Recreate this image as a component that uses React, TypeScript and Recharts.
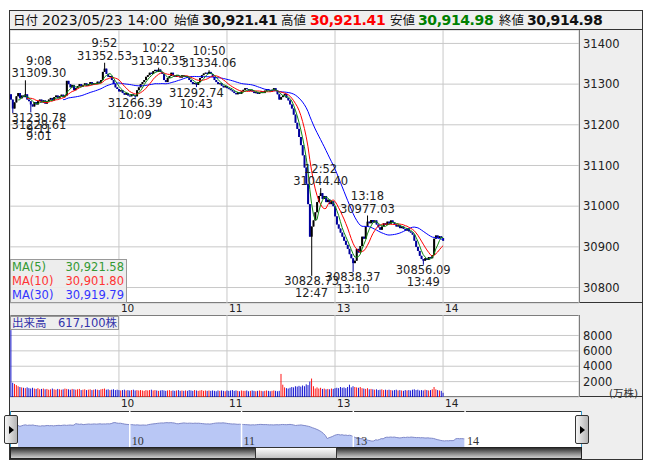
import React from "react";
import {
  ComposedChart,
  AreaChart,
  Area,
  Bar,
  Line,
  XAxis,
  YAxis,
  CartesianGrid,
  ReferenceDot,
  ReferenceLine,
} from "recharts";

const FONT = '"DejaVu Sans", Verdana, sans-serif';
const JP_FONT = '"DejaVu Sans", "Noto Sans CJK JP", sans-serif';

// 1分足 終値 9:00-11:29
const morningClose = [
  31262, 31240, 31255, 31270, 31278, 31265, 31272, 31268, 31275, 31262,
  31258, 31250, 31245, 31256, 31250, 31258, 31262, 31255, 31260, 31252,
  31258, 31262, 31266, 31260, 31268, 31272, 31265, 31270, 31274, 31268,
  31272, 31308, 31300, 31292, 31298, 31285, 31290, 31295, 31300, 31294,
  31298, 31302, 31296, 31300, 31305, 31298, 31302, 31300, 31306, 31303,
  31310, 31330, 31338, 31325, 31318, 31320, 31310, 31300, 31292, 31288,
  31282, 31285, 31278, 31274, 31278, 31272, 31270, 31275, 31272, 31270,
  31285, 31292, 31300, 31305, 31310, 31318, 31322, 31328, 31325, 31332,
  31335, 31330, 31336, 31330, 31325, 31310, 31305, 31315, 31320, 31328,
  31322, 31318, 31322, 31320, 31316, 31322, 31318, 31320, 31315, 31310,
  31305, 31300, 31303, 31298, 31305, 31315, 31322, 31326, 31328, 31325,
  31330, 31325, 31318, 31310, 31305, 31300, 31302, 31296, 31292, 31295,
  31290, 31288, 31285, 31282, 31278, 31275, 31280, 31276, 31282, 31286,
  31290, 31288, 31284, 31286, 31282, 31278, 31280, 31276, 31279, 31282,
  31278, 31284, 31288, 31285, 31282, 31286, 31290, 31284, 31275, 31262,
];

// 12:30-14:00
const afternoonClose = [
  31268, 31272, 31276, 31266, 31260, 31250, 31240, 31225, 31205, 31190,
  31170, 31150, 31125, 31095, 31055, 31005, 30925, 30950, 30965, 30985,
  31010, 31025, 31032, 31018, 31025, 31010, 31016, 31005, 31012, 31000,
  30975, 30955, 30945, 30935, 30925, 30915, 30905, 30895, 30882, 30872,
  30860, 30866, 30895, 30886, 30902, 30925, 30920, 30950, 30962, 30958,
  30966, 30960, 30965, 30955, 30948, 30942, 30950, 30958, 30954, 30962,
  30957, 30965, 30960, 30955, 30950, 30953, 30946, 30950, 30944, 30940,
  30945, 30938, 30935, 30930, 30915, 30900, 30890, 30878, 30870, 30866,
  30872, 30868, 30875, 30872, 30880, 30920, 30928, 30922, 30926, 30921.41,
  30914.98,
];

const firstOpen = 31275;

// 出来高 (万株)
const morningVolume = [
  8700, 1850, 1700, 1550, 1400, 1300, 1250, 1200, 1150, 1250,
  1150, 1100, 1200, 1100, 1050, 1150, 1000, 1050, 1100, 1000,
  1050, 950, 1000, 1100, 1000, 950, 1050, 1000, 950, 1000,
  1100, 1050, 1000, 950, 1050, 1000, 950, 1000, 1050, 900,
  950, 1000, 900, 950, 1000, 900, 950, 1000, 950, 900,
  1000, 1050, 1100, 950, 1000, 900, 950, 1000, 900, 950,
  900, 850, 900, 950, 850, 900, 850, 900, 950, 850,
  900, 850, 900, 850, 800, 900, 850, 900, 950, 850,
  900, 850, 800, 850, 900, 850, 800, 850, 900, 800,
  850, 800, 850, 900, 800, 850, 800, 850, 800, 900,
  850, 800, 900, 850, 800, 850, 900, 800, 850, 800,
  850, 800, 850, 800, 750, 850, 800, 850, 800, 750,
  850, 800, 850, 900, 800, 850, 800, 750, 850, 800,
  800, 850, 750, 800, 850, 800, 750, 800, 850, 800,
  750, 800, 850, 800, 750, 800, 850, 800, 750, 800,
];

const afternoonVolume = [
  3000, 1600, 1250, 1150, 1100, 1200, 1300, 1250, 1400, 1350,
  1450, 1350, 1500, 1400, 1650, 1550, 2000, 2400, 1400, 1100,
  1250, 1100, 1200, 1050, 1100, 1000, 1050, 1000, 1100, 1050,
  1150, 1200, 1150, 1300, 1200, 1250, 1150, 1300, 1600, 1250,
  1400, 1300, 1250, 1200, 1300, 1150, 1100, 1050, 1150, 1000,
  1050, 1000, 950, 1000, 900, 950, 1000, 900, 950, 900,
  950, 900, 850, 900, 950, 850, 900, 850, 800, 900,
  850, 900, 850, 950, 1000, 900, 950, 850, 900, 850,
  950, 900, 850, 900, 1000, 1300, 1000, 900, 850, 800,
  550,
];

// 高値・安値の注記
const extremes = [
  { slot: 11, time: "9:11", kind: "low", price: 31230.78 },
  { slot: 1, time: "9:01", kind: "low", price: 31228.61 },
  { slot: 8, time: "9:08", kind: "high", price: 31309.3 },
  { slot: 52, time: "9:52", kind: "high", price: 31352.53 },
  { slot: 69, time: "10:09", kind: "low", price: 31266.39 },
  { slot: 82, time: "10:22", kind: "high", price: 31340.35 },
  { slot: 103, time: "10:43", kind: "low", price: 31292.74 },
  { slot: 110, time: "10:50", kind: "high", price: 31334.06 },
  { slot: 167, time: "12:47", kind: "low", price: 30828.73 },
  { slot: 172, time: "12:52", kind: "high", price: 31044.4 },
  { slot: 190, time: "13:10", kind: "low", price: 30838.37 },
  { slot: 198, time: "13:18", kind: "high", price: 30977.03 },
  { slot: 229, time: "13:49", kind: "low", price: 30856.09 },
];

const priceTicks = [30800, 30900, 31000, 31100, 31200, 31300, 31400];
const volumeTicks = [2000, 4000, 6000, 8000];
const hourTicks = [
  { slot: 60, label: "10" },
  { slot: 120, label: "11" },
  { slot: 180, label: "13" },
  { slot: 240, label: "14" },
];

const header = {
  date: "2023/05/23 14:00",
  open: "30,921.41",
  high: "30,921.41",
  low: "30,914.98",
  close: "30,914.98",
};

const maLegend = [
  { name: "MA(5)", value: "30,921.58", color: "#339933" },
  { name: "MA(10)", value: "30,901.80", color: "#ff3333" },
  { name: "MA(30)", value: "30,919.79", color: "#3333ff" },
];

const volumeLabel = "出来高　617,100株";

const SLOT_COUNT = 316;
const NAV_SLOTS = 300;

const closes = [...morningClose, ...afternoonClose];
const volumes = [...morningVolume, ...afternoonVolume];

function sma(i: number, n: number) {
  if (i + 1 < n) return undefined;
  let s = 0;
  for (let k = i - n + 1; k <= i; k++) s += closes[k];
  return s / n;
}

const rows = Array.from({ length: SLOT_COUNT }, (_, slot) => {
  if (slot >= closes.length) return { slot } as any;
  const close = closes[slot];
  const open = slot === 0 ? firstOpen : closes[slot - 1];
  let high = Math.max(open, close);
  let low = Math.min(open, close);
  extremes
    .filter((e) => e.slot === slot)
    .forEach((e) => {
      if (e.kind === "high") high = Math.max(high, e.price);
      else low = Math.min(low, e.price);
    });
  return {
    slot,
    open,
    close,
    high,
    low,
    range: [low, high],
    up: close >= open,
    volume: volumes[slot],
    ma5: sma(slot, 5),
    ma10: sma(slot, 10),
    ma30: sma(slot, 30),
  };
});

const navRows = Array.from({ length: NAV_SLOTS }, (_, slot) => ({
  slot,
  close: slot < closes.length ? closes[slot] : undefined,
}));

// labels squeezed against the left edge stack a little below each other
const annotStack = extremes.map((e, i) =>
  extremes.slice(0, i).filter((o) => o.kind === e.kind && o.slot < 16 && e.slot < 16).length
);

const Candle = (props: any) => {
  const { x, y, width, height, payload } = props;
  if (!payload || payload.close == null) return null;
  const { open, close, high, low } = payload;
  const top = Math.min(y, y + height);
  const h = Math.abs(height);
  const span = high - low || 1;
  const toY = (p: number) => top + ((high - p) / span) * h;
  const color = close >= open ? "#000000" : "#00009c";
  const cx = x + width / 2;
  const bTop = toY(Math.max(open, close));
  const bBot = toY(Math.min(open, close));
  return (
    <g>
      <line x1={cx} x2={cx} y1={top} y2={top + h} stroke={color} strokeWidth={1} />
      <rect x={x} y={bTop} width={width} height={Math.max(bBot - bTop, 1)} fill={color} />
    </g>
  );
};

const VolumeBar = (props: any) => {
  const { x, y, width, height, payload } = props;
  if (!payload || payload.volume == null) return null;
  return (
    <rect x={x} y={y} width={width} height={height} fill={payload.up ? "#ff0000" : "#0000cc"} />
  );
};

const HourTick = (props: any) => {
  const { x, y, payload, dy } = props;
  const h = hourTicks.find((t) => t.slot === payload.value);
  return (
    <text x={x + 2} y={y + (dy || 5)} dominantBaseline="central" fontSize={10.5} fontFamily={FONT} fill="#222">
      {h ? h.label : ""}
    </text>
  );
};

const Annotation = (props: any) => {
  const { cx, cy, e, stack } = props;
  const price = e.price.toFixed(2);
  const half = price.length * 3.5;
  const x = Math.max(cx, half + 1);
  const isHigh = e.kind === "high";
  const shift = (stack || 0) * 6;
  const priceY = isHigh ? cy - 7 - shift : cy + 5.5 + shift;
  const timeY = isHigh ? cy - 19.5 - shift : cy + 17 + shift;
  return (
    <g fontFamily={FONT} fontSize={11.5} fill="#222" textAnchor="middle">
      <text x={x} y={timeY} dominantBaseline="central">{e.time}</text>
      <text x={x} y={priceY} dominantBaseline="central">{price}</text>
    </g>
  );
};

const abs = (s: React.CSSProperties): React.CSSProperties => ({ position: "absolute", boxSizing: "border-box", ...s });

const Handle = ({ left }: { left: number }) => (
  <div
    style={abs({
      left,
      top: 415,
      width: 14,
      height: 29,
      border: "1px solid #333",
      borderRadius: 2,
      background: "linear-gradient(to right, #f6f6f6, #b4b4b4)",
    })}
  >
    <div
      style={abs({
        left: 4,
        top: 10,
        width: 0,
        height: 0,
        borderTop: "4px solid transparent",
        borderBottom: "4px solid transparent",
        borderLeft: "5px solid #000",
      })}
    />
  </div>
);

export default function App() {
  const hx = (left: number, text: string, style: React.CSSProperties) => (
    <span style={{ position: "absolute", left, top: 10, height: 20, lineHeight: "20px", whiteSpace: "nowrap", ...style }}>
      {text}
    </span>
  );
  const jp = { fontFamily: '"Noto Sans CJK JP", sans-serif', fontSize: 12.5, color: "#111" };
  const num = { fontFamily: FONT, fontSize: 14, fontWeight: 700, letterSpacing: -0.4 };

  return (
    <div style={{ position: "absolute", left: 0, top: 0, width: 653, height: 470, background: "#fff" }}>
      {/* frame and panel backgrounds */}
      <div style={abs({ left: 9, top: 10, width: 634, height: 450, border: "1px solid #333", background: "#fff" })} />
      <div style={abs({ left: 579, top: 29, width: 64, height: 275, background: "#eeeeee", borderLeft: "1px solid #333", borderRight: "1px solid #333" })} />
      <div style={abs({ left: 9, top: 302, width: 634, height: 14, background: "#eeeeee", border: "1px solid #333" })} />
      <div style={abs({ left: 579, top: 315, width: 64, height: 83, background: "#eeeeee", borderLeft: "1px solid #333", borderRight: "1px solid #333" })} />
      <div style={abs({ left: 9, top: 396, width: 634, height: 16, background: "#eeeeee", border: "1px solid #333" })} />
      <div style={abs({ left: 582, top: 411, width: 61, height: 49, background: "#eeeeee", borderRight: "1px solid #333", borderBottom: "1px solid #333" })} />

      {/* header */}
      <div style={abs({ left: 9, top: 10, width: 634, height: 20, background: "#efefef", border: "1px solid #333" })} />
      {hx(13, "日付", jp)}
      {hx(42, header.date, { fontFamily: FONT, fontSize: 14, color: "#111" })}
      {hx(174, "始値", jp)}
      {hx(202, header.open, { ...num, color: "#111" })}
      {hx(281, "高値", jp)}
      {hx(310, header.high, { ...num, color: "#ff0000" })}
      {hx(390, "安値", jp)}
      {hx(418, header.low, { ...num, color: "#008000" })}
      {hx(499, "終値", jp)}
      {hx(527, header.close, { ...num, color: "#111" })}

      {/* price panel */}
      <div style={{ position: "absolute", left: 10, top: 30 }}>
        <ComposedChart width={632} height={285} data={rows} margin={{ top: 0, right: 0, bottom: 0, left: 0 }} barCategoryGap={0}>
          <CartesianGrid stroke="#c8c8c8" />
          <XAxis
            dataKey="slot"
            type="category"
            ticks={hourTicks.map((h) => h.slot)}
            interval={0}
            height={12}
            tickLine={false}
            axisLine={false}
            tickSize={0}
            tickMargin={0}
            tick={<HourTick dy={4.5} />}
          />
          <YAxis
            orientation="right"
            width={63}
            type="number"
            domain={[30762, 31433]}
            allowDataOverflow
            ticks={priceTicks}
            interval={0}
            tickLine={false}
            axisLine={false}
            tickSize={0}
            tickMargin={4}
            tick={{ fill: "#222", fontSize: 11.5, fontFamily: FONT }}
          />
          <Bar dataKey="range" shape={Candle} isAnimationActive={false} />
          <Line dataKey="ma30" stroke="#0000ff" strokeWidth={1} dot={false} isAnimationActive={false} />
          <Line dataKey="ma10" stroke="#ff0000" strokeWidth={1} dot={false} isAnimationActive={false} />
          <Line dataKey="ma5" stroke="#118811" strokeWidth={1} dot={false} isAnimationActive={false} />
          {extremes.map((e, i) => (
            <ReferenceDot
              key={e.time + e.price}
              x={e.slot}
              y={e.price}
              r={1}
              ifOverflow="visible"
              shape={(p: any) => <Annotation cx={p.cx} cy={p.cy} e={e} stack={annotStack[i]} />}
            />
          ))}
        </ComposedChart>
      </div>

      {/* volume panel */}
      <div style={{ position: "absolute", left: 10, top: 315 }}>
        <ComposedChart width={632} height={96} data={rows} margin={{ top: 0, right: 0, bottom: 0, left: 0 }} barCategoryGap="25%">
          <CartesianGrid stroke="#c8c8c8" />
          <XAxis
            dataKey="slot"
            type="category"
            ticks={hourTicks.map((h) => h.slot)}
            interval={0}
            height={14}
            tickLine={false}
            axisLine={false}
            tickSize={0}
            tickMargin={0}
            tick={<HourTick dy={5.5} />}
          />
          <YAxis
            orientation="right"
            width={63}
            type="number"
            domain={[0, 10660]}
            allowDataOverflow
            ticks={volumeTicks}
            interval={0}
            tickLine={false}
            axisLine={false}
            tickSize={0}
            tickMargin={4}
            tick={{ fill: "#222", fontSize: 11.5, fontFamily: FONT }}
          />
          <Bar dataKey="volume" shape={VolumeBar} isAnimationActive={false} />
        </ComposedChart>
      </div>

      {/* navigator */}
      <div style={{ position: "absolute", left: 18, top: 411 }}>
        <AreaChart width={557} height={36} data={navRows} margin={{ top: 0, right: 0, bottom: 0, left: 0 }}>
          <XAxis dataKey="slot" type="category" hide />
          <YAxis type="number" domain={[30710, 31634]} allowDataOverflow hide />
          <Area
            type="linear"
            dataKey="close"
            stroke="#7f88c8"
            strokeWidth={1}
            fill="#b9c7f5"
            fillOpacity={1}
            baseValue={30710}
            isAnimationActive={false}
          />
          {hourTicks.map((h) => (
            <ReferenceLine
              key={h.slot}
              x={h.slot}
              stroke="#ffffff"
              strokeWidth={1.5}
              label={(p: any) => (
                <text
                  x={p.viewBox.x + 2}
                  y={30}
                  dominantBaseline="central"
                  fontSize={12}
                  fontFamily='"Liberation Serif", serif'
                  fill="#333"
                >
                  {h.label}
                </text>
              )}
            />
          ))}
        </AreaChart>
      </div>
      <div style={abs({ left: 10, top: 411, width: 1, height: 36, background: "#3399cc" })} />
      <div style={abs({ left: 581, top: 411, width: 1, height: 36, background: "#3399cc" })} />
      <Handle left={4} />
      <Handle left={575} />

      {/* scrollbar */}
      <div style={abs({ left: 10, top: 447, width: 572, height: 12, border: "1px solid #222", background: "linear-gradient(#2e2e2e, #8a8a8a 55%, #d0d0d0)" })} />
      <div style={abs({ left: 255, top: 447, width: 82, height: 12, border: "1px solid #333", background: "linear-gradient(#fdfdfd, #c4c4c4)" })} />

      {/* overlays */}
      <div
        style={abs({
          left: 10,
          top: 259,
          width: 117,
          height: 44,
          background: "rgba(236,236,236,0.92)",
          border: "1px solid #999",
          padding: "0 2px 0 1px",
          fontFamily: FONT,
          fontSize: 11.5,
        })}
      >
        {maLegend.map((m) => (
          <div key={m.name} style={{ display: "flex", justifyContent: "space-between", height: 14, lineHeight: "14px", color: m.color }}>
            <span>{m.name}</span>
            <span>{m.value}</span>
          </div>
        ))}
      </div>
      <div
        style={abs({
          left: 10,
          top: 316,
          width: 109,
          height: 14,
          background: "#eeeeee",
          border: "1px solid #999",
          fontFamily: JP_FONT,
          fontSize: 11.5,
          lineHeight: "12px",
          color: "#3333aa",
          paddingLeft: 1,
          whiteSpace: "nowrap",
        })}
      >
        {volumeLabel}
      </div>
      <div style={abs({ left: 609, top: 385, fontFamily: JP_FONT, fontSize: 10.5, color: "#333", whiteSpace: "nowrap" })}>
        (万株)
      </div>
    </div>
  );
}
